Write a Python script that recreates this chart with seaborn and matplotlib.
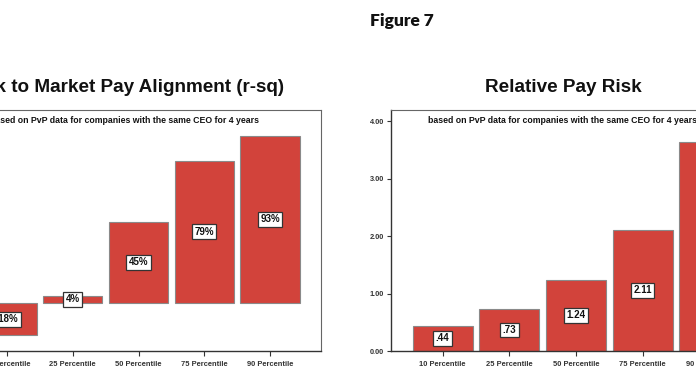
import matplotlib
matplotlib.use("Agg")
import matplotlib.pyplot as plt
import seaborn as sns

# data
categories = ["10 Percentile", "25 Percentile", "50 Percentile", "75 Percentile", "90 Percentile"]
alignment = [-0.18, 0.04, 0.45, 0.79, 0.93]
pay_risk = [0.44, 0.73, 1.24, 2.11, 3.65]
alignment_labels = ["-18%", "4%", "45%", "79%", "93%"]
pay_risk_labels = [".44", ".73", "1.24", "2.11", "3.65"]
risk_ticks = [0.0, 1.0, 2.0, 3.0, 4.0]

fig_title = "Figure 7"
left_title = "Risk to Market Pay Alignment (r-sq)"
right_title = "Relative Pay Risk"
subtitle = "based on PvP data for companies with the same CEO for 4 years"

sns.set_theme(style="white")
plt.rcParams["font.family"] = ["Liberation Sans", "DejaVu Sans"]

W, H = 696, 385
BAR = "#d2433b"
fig = plt.figure(figsize=(W / 100, H / 100), dpi=100)

def px(x0, y_top, w, h):
    return [x0 / W, (H - y_top - h) / H, w / W, h / H]

ax1 = fig.add_axes(px(-44, 110, 365, 241))
ax2 = fig.add_axes(px(391, 110, 370, 241))

for ax, vals, labels in [(ax1, alignment, alignment_labels), (ax2, pay_risk, pay_risk_labels)]:
    sns.barplot(x=categories, y=vals, ax=ax, color=BAR, saturation=1,
                width=0.9, edgecolor="#8a8a8a", linewidth=0.8)
    ax.set_xlim(-0.775, 4.775)
    for i, (v, lab) in enumerate(zip(vals, labels)):
        ax.text(i, v / 2, lab, ha="center", va="center", fontsize=7,
                fontweight="bold", color="#111111",
                bbox=dict(boxstyle="square,pad=0.25", fc="white", ec="#333333", lw=0.9))
    for s in ["top", "right"]:
        ax.spines[s].set_color("#666666")
        ax.spines[s].set_linewidth(0.8)
    for s in ["left", "bottom"]:
        ax.spines[s].set_color("#333333")
        ax.spines[s].set_linewidth(1.0)
    ax.tick_params(axis="x", bottom=True, length=3.5, width=0.8, color="#333333",
                   pad=3.5, labelsize=5.4)
    ax.tick_params(axis="y", left=True, length=3, width=0.8, color="#333333",
                   pad=2, labelsize=5.3)
    for t in ax.get_xticklabels() + ax.get_yticklabels():
        t.set_fontweight("bold")
        t.set_color("#333333")
    ax.set_xlabel("")
    ax.set_ylabel("")

ax1.set_ylim(-0.2667, 1.072)
ax1.set_yticks([])
ax2.set_ylim(0, 4.2)
ax2.set_yticks(risk_ticks)
ax2.set_yticklabels([f"{t:.2f}" for t in risk_ticks], fontweight="bold", color="#333333")

fig.text(402 / W, 1 - 21 / H, fig_title, ha="center", va="center",
         fontsize=12.5, fontweight="heavy", family=["Lato", "DejaVu Sans"], color="#111111")
for cx, title in [(125, left_title), (563, right_title)]:
    fig.text(cx / W, 1 - 92 / H, title, ha="center", va="baseline",
             fontsize=13.6, fontweight="bold", color="#111111")
    fig.text(cx / W, 1 - 123 / H, subtitle, ha="center", va="baseline",
             fontsize=6.3, fontweight="bold", color="#111111")

fig.savefig("out.png", dpi=100)
